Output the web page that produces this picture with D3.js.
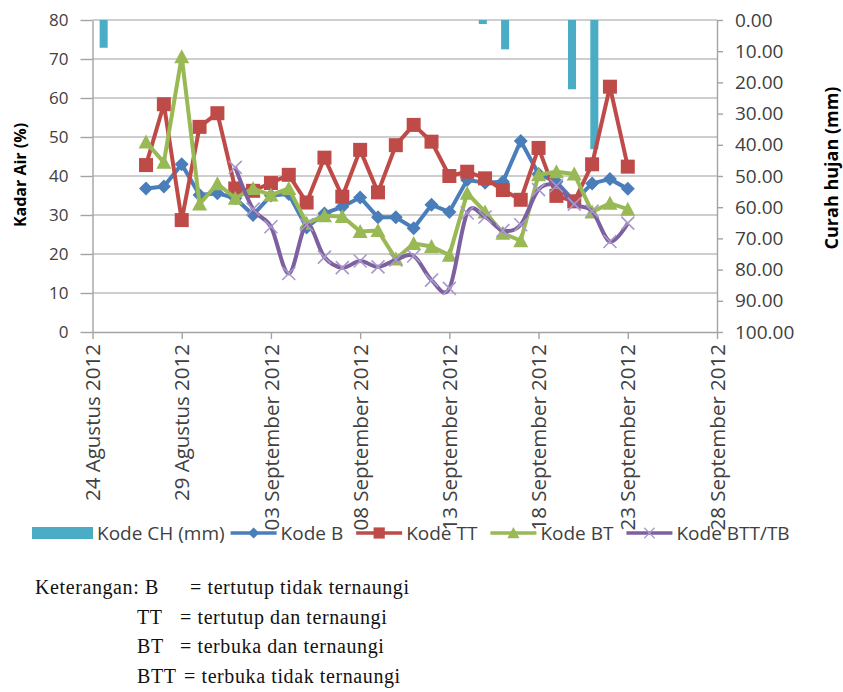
<!DOCTYPE html>
<html>
<head>
<meta charset="utf-8">
<script src="https://cdn.jsdelivr.net/npm/d3@7"></script>
<style>
  body { margin: 0; background: #fff; }
  svg { display: block; }
</style>
</head>
<body>
<svg id="chart" width="843" height="692"></svg>
<script>

// ----------------- DATA ----------------- //
var days = ["2012-08-27","2012-08-28","2012-08-29","2012-08-30","2012-08-31","2012-09-01","2012-09-02",
            "2012-09-03","2012-09-04","2012-09-05","2012-09-06","2012-09-07","2012-09-08","2012-09-09",
            "2012-09-10","2012-09-11","2012-09-12","2012-09-13","2012-09-14","2012-09-15","2012-09-16",
            "2012-09-17","2012-09-18","2012-09-19","2012-09-20","2012-09-21","2012-09-22","2012-09-23"];

// curah hujan (mm), right axis
var kodeCH = [8.9, 0, 0, 0, 0, 0, 0, 0, 0, 0, 0, 0, 0, 0, 0, 0, 0, 1.3, 9.4, 0, 0, 22.2, 41.4, 0, 0, 0, 0, 0];

// kadar air (%), left axis
var kodeB  = [36.8, 37.3, 43.0, 35.1, 35.6, 34.3, 30.0, 35.0, 35.4, 26.8, 30.4, 32.1, 34.5, 29.4,
              29.4, 26.6, 32.6, 30.8, 39.0, 38.3, 38.5, 49.0, 40.5, 38.5, 33.5, 38.1, 39.2, 36.7];
var kodeTT = [42.8, 58.4, 28.7, 52.6, 56.1, 36.8, 36.2, 38.2, 40.3, 33.2, 44.7, 34.7, 46.7, 35.8,
              47.9, 53.1, 48.8, 40.0, 41.1, 39.4, 36.4, 33.9, 47.2, 34.9, 33.5, 43.0, 62.9, 42.4];
var kodeBT = [48.7, 43.5, 70.6, 32.8, 38.0, 34.3, 36.8, 35.1, 36.8, 27.9, 29.8, 29.6, 25.8, 26.0,
              18.7, 22.7, 21.9, 19.7, 35.6, 30.8, 25.3, 23.4, 40.3, 41.1, 40.5, 30.8, 33.0, 31.5];
var kodeBTT = [null, null, null, null, null, 42.2, 31.5, 27.0, 15.0, 27.5, 19.2, 16.5, 18.2, 16.7,
               18.5, 19.5, 13.3, 11.2, 30.5, 29.5, 26.0, 27.5, 36.5, 37.5, 32.8, 31.0, 23.2, 27.9];

var xTickDates = ["2012-08-24","2012-08-29","2012-09-03","2012-09-08","2012-09-13","2012-09-18","2012-09-23","2012-09-28"];
var xTickLabels = ["24 Agustus 2012","29 Agustus 2012","03 September 2012","08 September 2012",
                   "13 September 2012","18 September 2012","23 September 2012","28 September 2012"];
var yLeftTicks = [0, 10, 20, 30, 40, 50, 60, 70, 80];
var yRightTicks = [0, 10, 20, 30, 40, 50, 60, 70, 80, 90, 100];

var keterangan = [
    ["Keterangan: B", "= tertutup tidak ternaungi"],
    ["TT", "= tertutup dan ternaungi"],
    ["BT", "= terbuka dan ternaungi"],
    ["BTT", "= terbuka tidak ternaungi"]
];

// ----------------- SETUP ----------------- //
var parse = d3.timeParse("%Y-%m-%d");
var plot = { left: 92.5, right: 717, top: 20, bottom: 332 };
var font = "'Open Sans', 'DejaVu Sans', sans-serif";
var labelColor = "#404040";
var axisColor = "#a3a3a3";

var svg = d3.select("#chart");

var x = d3.scaleTime()
    .domain([parse(xTickDates[0]), parse(xTickDates[xTickDates.length - 1])])
    .range([plot.left, plot.right]);

// the rain series sits on its own category axis
var xBand = d3.scaleBand()
    .domain(days)
    .range([plot.left, plot.right])
    .paddingInner(0.64)
    .paddingOuter(0.32);

var yL = d3.scaleLinear().domain([0, 80]).range([plot.bottom, plot.top]);
var yR = d3.scaleLinear().domain([0, 100]).range([plot.top, plot.bottom]);

// ----------------- GRID ----------------- //
svg.append('g')
    .selectAll('line')
    .data(yLeftTicks.filter(d => d > 0))
    .join('line')
    .attr('x1', plot.left)
    .attr('x2', plot.right)
    .attr('y1', d => yL(d))
    .attr('y2', d => yL(d))
    .attr('stroke', '#bebebe')
    .attr('stroke-width', 1.4);

// ----------------- RAIN BARS ----------------- //
svg.append('g')
    .selectAll('rect')
    .data(days.map((d, i) => ({ day: d, v: kodeCH[i] })).filter(d => d.v > 0))
    .join('rect')
    .attr('x', d => xBand(d.day))
    .attr('y', yR(0))
    .attr('width', xBand.bandwidth())
    .attr('height', d => yR(d.v) - yR(0))
    .attr('fill', '#4bacc6');

// ----------------- AXES ----------------- //
function styleAxis(g, size) {
    g.select('.domain').attr('stroke', axisColor).attr('stroke-width', 1.4);
    g.selectAll('.tick line').attr('stroke', axisColor).attr('stroke-width', 1.4);
    g.selectAll('.tick text')
        .attr('fill', labelColor)
        .style('font-family', font)
        .style('font-size', size + 'px');
}

var axL = svg.append('g')
    .attr('transform', 'translate(' + plot.left + ',0)')
    .call(d3.axisLeft(yL).tickValues(yLeftTicks).tickSize(12).tickSizeOuter(0).tickPadding(12));
styleAxis(axL, 17);

var axR = svg.append('g')
    .attr('transform', 'translate(' + plot.right + ',0)')
    .call(d3.axisRight(yR).tickValues(yRightTicks).tickFormat(d3.format('.2f'))
        .tickSize(6).tickSizeOuter(0).tickPadding(12));
styleAxis(axR, 19);

var axB = svg.append('g')
    .attr('transform', 'translate(0,' + plot.bottom + ')')
    .call(d3.axisBottom(x).tickValues(xTickDates.map(parse))
        .tickFormat((d, i) => xTickLabels[i]).tickSize(7).tickSizeOuter(0));
styleAxis(axB, 20.5);
axB.selectAll('.tick text')
    .attr('transform', 'rotate(-90)')
    .attr('text-anchor', 'end')
    .attr('x', -12)
    .attr('y', 0)
    .attr('dy', '0.35em');

// axis titles
svg.append('text')
    .attr('transform', 'translate(20,175) rotate(-90)')
    .attr('text-anchor', 'middle')
    .attr('dominant-baseline', 'central')
    .style('font-family', font)
    .style('font-size', '16px')
    .style('font-weight', 'bold')
    .attr('fill', '#000')
    .text('Kadar Air (%)');

svg.append('text')
    .attr('transform', 'translate(831,168) rotate(-90)')
    .attr('text-anchor', 'middle')
    .attr('dominant-baseline', 'central')
    .style('font-family', font)
    .style('font-size', '18px')
    .style('font-weight', 'bold')
    .attr('fill', '#000')
    .text('Curah hujan (mm)');

// ----------------- LINE SERIES ----------------- //
var series = [
    { name: 'Kode B', values: kodeB, color: '#4a7ebb', marker: 'diamond', curve: d3.curveLinear },
    { name: 'Kode TT', values: kodeTT, color: '#be4b48', marker: 'square', curve: d3.curveLinear },
    { name: 'Kode BT', values: kodeBT, color: '#98b954', marker: 'triangle', curve: d3.curveLinear },
    { name: 'Kode BTT/TB', values: kodeBTT, color: '#7d60a0', marker: 'cross', curve: d3.curveCardinal.tension(0) }
];

function drawMarker(g, type, color) {
    if (type === 'diamond') {
        g.append('path').attr('d', 'M0,-7L7,0L0,7L-7,0Z').attr('fill', color);
    } else if (type === 'square') {
        g.append('rect').attr('x', -7).attr('y', -7).attr('width', 14).attr('height', 14).attr('fill', color);
    } else if (type === 'triangle') {
        g.append('path').attr('d', 'M0,-7.5L7.5,6.5L-7.5,6.5Z').attr('fill', color);
    } else {
        g.append('path').attr('d', 'M-6.5,-6.5L6.5,6.5M-6.5,6.5L6.5,-6.5')
            .attr('stroke', '#a899c8').attr('stroke-width', 1.6).attr('fill', 'none');
    }
}

series.forEach(function (s) {
    var pts = days.map((d, i) => ({ day: parse(d), v: s.values[i] }));
    var line = d3.line()
        .defined(d => d.v != null)
        .x(d => x(d.day))
        .y(d => yL(d.v))
        .curve(s.curve);

    var g = svg.append('g');
    g.append('path')
        .datum(pts)
        .attr('d', line)
        .attr('fill', 'none')
        .attr('stroke', s.color)
        .attr('stroke-width', 4)
        .attr('stroke-linejoin', 'round');

    g.selectAll('g.mk')
        .data(pts.filter(d => d.v != null))
        .join('g')
        .attr('class', 'mk')
        .attr('transform', d => 'translate(' + x(d.day) + ',' + yL(d.v) + ')')
        .each(function () { drawMarker(d3.select(this), s.marker, s.color); });
});

// ----------------- LEGEND ----------------- //
var legend = svg.append('g').attr('transform', 'translate(0,533)');
var lx = 32;

legend.append('rect').attr('x', lx).attr('y', -6).attr('width', 61).attr('height', 12).attr('fill', '#4bacc6');
lx += 65;
var t0 = legend.append('text').attr('x', lx).attr('dy', '0.35em')
    .style('font-family', font).style('font-size', '19px').attr('fill', labelColor)
    .text('Kode CH (mm)');
lx += t0.node().getComputedTextLength() + 6;

series.forEach(function (s) {
    legend.append('line').attr('x1', lx).attr('x2', lx + 46).attr('y1', 0).attr('y2', 0)
        .attr('stroke', s.color).attr('stroke-width', 3.6);
    var mk = legend.append('g').attr('transform', 'translate(' + (lx + 23) + ',0) scale(0.8)');
    drawMarker(mk, s.marker, s.color);
    lx += 50;
    var t = legend.append('text').attr('x', lx).attr('dy', '0.35em')
        .style('font-family', font).style('font-size', '19px').attr('fill', labelColor)
        .text(s.name);
    lx += t.node().getComputedTextLength() + 13;
});

// ----------------- KETERANGAN ----------------- //
var ketX = [[35, 190], [137, 180], [137, 180], [137, 184]];
var ket = svg.append('g')
    .style('font-family', "'Liberation Serif', 'DejaVu Serif', serif")
    .style('font-size', '20px')
    .style('letter-spacing', '0.6px')
    .attr('fill', '#111');

keterangan.forEach(function (row, i) {
    var y = 594 + i * 29.5;
    ket.append('text').attr('x', ketX[i][0]).attr('y', y).text(row[0]);
    ket.append('text').attr('x', ketX[i][1]).attr('y', y).text(row[1]);
});

</script>
</body>
</html>
